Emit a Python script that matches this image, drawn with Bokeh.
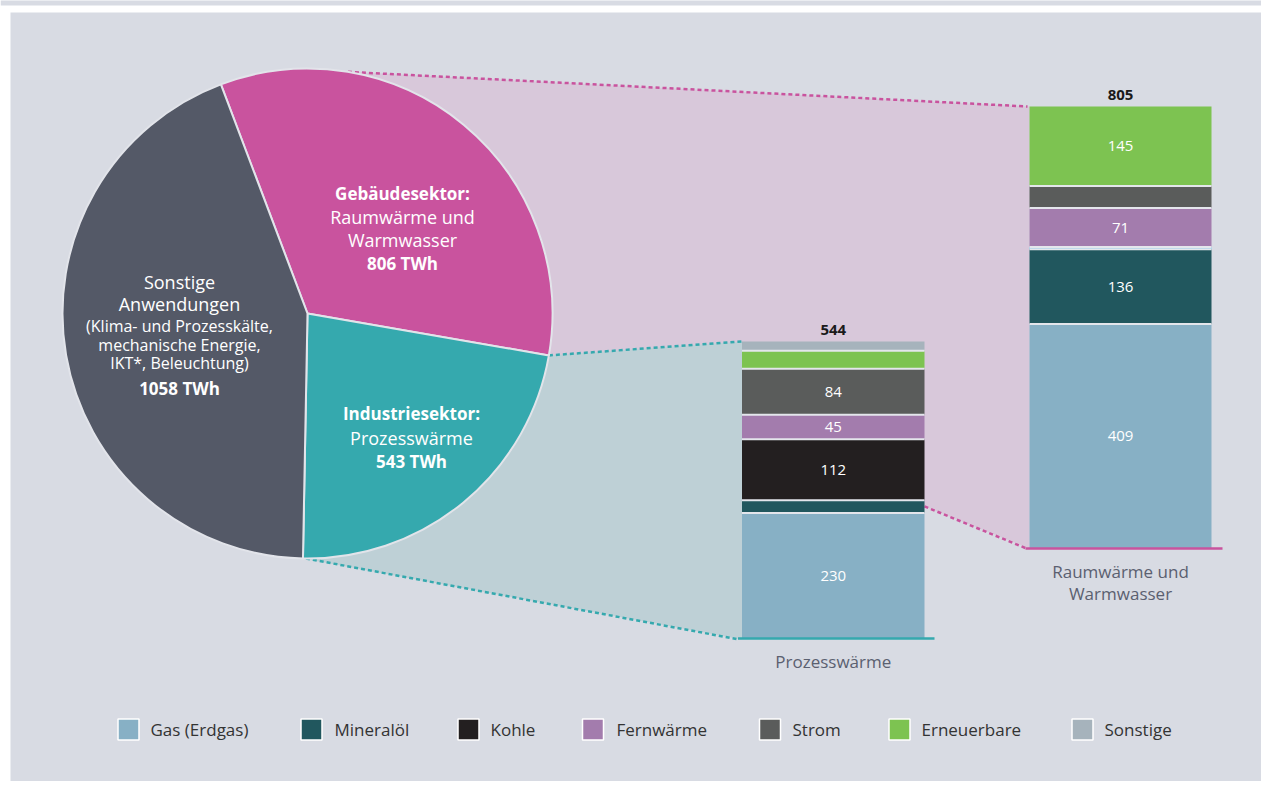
import math
from bokeh.plotting import figure
from bokeh.models import Range1d, ColumnDataSource
from bokeh.core.properties import value
from bokeh.embed import file_html
from bokeh.resources import INLINE

# ---------------- data ----------------
sector_names = ["Gebäudesektor", "Industriesektor", "Sonstige Anwendungen"]
sector_twh = [806, 543, 1058]
sector_colors = ["#c9539e", "#35a9ae", "#545967"]

carriers = ["Gas (Erdgas)", "Mineralöl", "Kohle", "nicht zugeordnet", "Fernwärme", "Strom", "Erneuerbare", "Sonstige"]
carrier_colors = ["#87b0c5", "#21575e", "#231f20", "#4fb3e2", "#a37cad", "#5a5c5b", "#7dc351", "#a6b3bc"]
prozesswaerme = [230, 23, 112, 0, 45, 84, 33, 17]
raumwaerme = [409, 136, 0, 4, 71, 40, 145, 0]
legend_items = ["Gas (Erdgas)", "Mineralöl", "Kohle", "Fernwärme", "Strom", "Erneuerbare", "Sonstige"]

bar_titles_prozess = ["Prozesswärme"]
bar_titles_raum = ["Raumwärme und", "Warmwasser"]

FONT = value("Open Sans")
BG = "#d8dbe3"
W, H = 1261, 781


def Y(py):  # image pixel -> data y
    return H - py


p = figure(width=W, height=H, output_backend="svg", toolbar_location=None,
           x_range=Range1d(0, W), y_range=Range1d(0, H),
           x_axis_location=None, y_axis_location=None, min_border=0)
p.outline_line_color = None
p.xgrid.visible = False
p.ygrid.visible = False
p.background_fill_color = "white"
p.border_fill_color = "white"

# panel
p.quad(left=10, right=W + 20, bottom=-10, top=Y(12), fill_color=BG, line_color=None)
p.quad(left=0, right=W + 20, bottom=Y(5), top=H + 10, fill_color=BG, line_color=None)

# bar scales (TWh) via extra ranges
L_BASE, L_TOP = 638, 341
R_BASE, R_TOP = 548, 106
lu = sum(prozesswaerme) / (L_BASE - L_TOP)
ru = sum(raumwaerme) / (R_BASE - R_TOP)
ls = -Y(L_BASE) * lu
rs = -Y(R_BASE) * ru
p.extra_y_ranges = {"prozess": Range1d(ls, ls + H * lu), "raum": Range1d(rs, rs + H * ru)}

def lpy(v):
    return L_BASE - v / lu

def rpy(v):
    return R_BASE - v / ru

LX0, LX1 = 741.5, 924
RX0, RX1 = 1029, 1211

# pie geometry
CX, CY, R = 307, 313, 245
start = math.radians(110.7)
total = sum(sector_twh)
angles = []
a = start
for v in sector_twh:
    b = a - v / total * 2 * math.pi
    angles.append((a, b))
    a = b

def arc_pt(ang):
    return (CX + R * math.cos(ang), CY - R * math.sin(ang))

p_top = arc_pt(math.radians(80.5))
p_mt = arc_pt(angles[0][1])
p_td = arc_pt(angles[1][1])

# zoom fills
mag_poly = [p_top, (RX0, R_TOP), (RX0, R_BASE), (LX1, lpy(242)), p_mt, (CX, CY)]
p.patch([q[0] for q in mag_poly], [Y(q[1]) for q in mag_poly], fill_color="#d8c8da", line_color=None)
teal_poly = [p_mt, (LX0, L_TOP), (LX0, L_BASE + 1), p_td, (CX, CY)]
p.patch([q[0] for q in teal_poly], [Y(q[1]) for q in teal_poly], fill_color="#bed0d6", line_color=None)

# dashed connectors
p.line([p_top[0], RX0 - 2], [Y(p_top[1]), Y(R_TOP)], line_color="#c9539e", line_width=2.5, line_dash="4 3")
p.line([LX1, RX0 - 3], [Y(lpy(242)), Y(R_BASE)], line_color="#c9539e", line_width=2.5, line_dash="4 3")
p.line([p_mt[0], LX0], [Y(p_mt[1]), Y(L_TOP)], line_color="#35a9ae", line_width=2.5, line_dash="4 3")
p.line([p_td[0] + 3, LX0 - 3], [Y(p_td[1]), Y(L_BASE + 1)], line_color="#35a9ae", line_width=2.5, line_dash="4 3")

# pie
p.wedge(x=[CX] * 3, y=[Y(CY)] * 3, radius=R,
        start_angle=[s for s, e in angles], end_angle=[e for s, e in angles],
        direction="clock", fill_color=sector_colors, line_color="#e2e4ea", line_width=2)

# pie labels
pie_lines = [
    (402, 193, "Gebäudesektor:", "bold", "17px"),
    (402, 216, "Raumwärme und", "normal", "18px"),
    (402, 239, "Warmwasser", "normal", "18px"),
    (402, 263, f"{sector_twh[0]} TWh", "bold", "17px"),
    (411, 413, "Industriesektor:", "bold", "17px"),
    (411, 437, "Prozesswärme", "normal", "18px"),
    (411, 461, f"{sector_twh[1]} TWh", "bold", "17px"),
    (179, 281, "Sonstige", "normal", "18px"),
    (179, 303, "Anwendungen", "normal", "18px"),
    (179, 325, "(Klima- und Prozesskälte,", "normal", "16px"),
    (179, 344, "mechanische Energie,", "normal", "16px"),
    (179, 362, "IKT*, Beleuchtung)", "normal", "16px"),
    (179, 388, f"{sector_twh[2]} TWh", "bold", "17px"),
]
for x, y, t, st, sz in pie_lines:
    p.text(x=[x], y=[Y(y)], text=[t], text_align="center", text_baseline="middle",
           text_color="white", text_font=FONT, text_font_style=st, text_font_size=sz)

# stacked bars
def stack(vals, x0, x1, rname):
    bottoms, tops = [], []
    c = 0
    for v in vals:
        bottoms.append(c)
        c += v
        tops.append(c)
    src = ColumnDataSource(dict(x=[(x0 + x1) / 2] * len(vals), bottom=bottoms, top=tops,
                                color=carrier_colors, v=vals))
    p.vbar(x="x", bottom="bottom", top="top", width=x1 - x0, fill_color="color",
           line_color=None, source=src, y_range_name=rname)
    seps = [tops[i] for i in range(len(vals) - 1) if vals[i] > 0 and any(vv > 0 for vv in vals[i + 1:])]
    p.segment(x0=[x0] * len(seps), x1=[x1] * len(seps), y0=seps, y1=seps,
              line_color="#e4e6ec", line_width=2, y_range_name=rname)
    lab = [i for i, v in enumerate(vals) if v >= 45]
    p.text(x=[(x0 + x1) / 2] * len(lab), y=[(bottoms[i] + tops[i]) / 2 for i in lab],
           text=[str(vals[i]) for i in lab], text_align="center", text_baseline="middle",
           text_color="white", text_font=FONT, text_font_size="15px", y_range_name=rname)
    p.text(x=[(x0 + x1) / 2], y=[c], text=[str(c)], text_align="center", text_baseline="bottom",
           y_offset=-7, text_color="#1a1a1a", text_font=FONT, text_font_style="bold",
           text_font_size="15px", y_range_name=rname)
    return c

stack(prozesswaerme, LX0, LX1, "prozess")
stack(raumwaerme, RX0, RX1, "raum")

# baselines
p.segment(x0=[LX0 - 4], x1=[LX1 + 10], y0=[0], y1=[0], line_color="#35a9ae", line_width=2.5, y_range_name="prozess")
p.segment(x0=[RX0 - 4], x1=[RX1 + 11], y0=[0], y1=[0], line_color="#c9539e", line_width=2.5, y_range_name="raum")

# bar titles
p.text(x=[(LX0 + LX1) / 2], y=[Y(661)], text=bar_titles_prozess, text_align="center", text_baseline="middle",
       text_color="#5b6070", text_font=FONT, text_font_size="17px")
p.text(x=[(RX0 + RX1) / 2] * 2, y=[Y(571), Y(593)], text=bar_titles_raum, text_align="center",
       text_baseline="middle", text_color="#5b6070", text_font=FONT, text_font_size="17px")

# legend
sq_x = [128, 311, 468, 592.5, 769.5, 899, 1082]
tx_x = [150, 334, 490, 616, 792, 921, 1104]
leg_colors = [carrier_colors[carriers.index(n)] for n in legend_items]
p.rect(x=sq_x, y=[Y(729)] * 7, width=21, height=21, fill_color=leg_colors, line_color="white", line_width=1.5)
p.text(x=tx_x, y=[Y(729)] * 7, text=legend_items, text_align="left", text_baseline="middle",
       text_color="#333333", text_font=FONT, text_font_size="17px")

open("out.html", "w").write(file_html(p, INLINE))
